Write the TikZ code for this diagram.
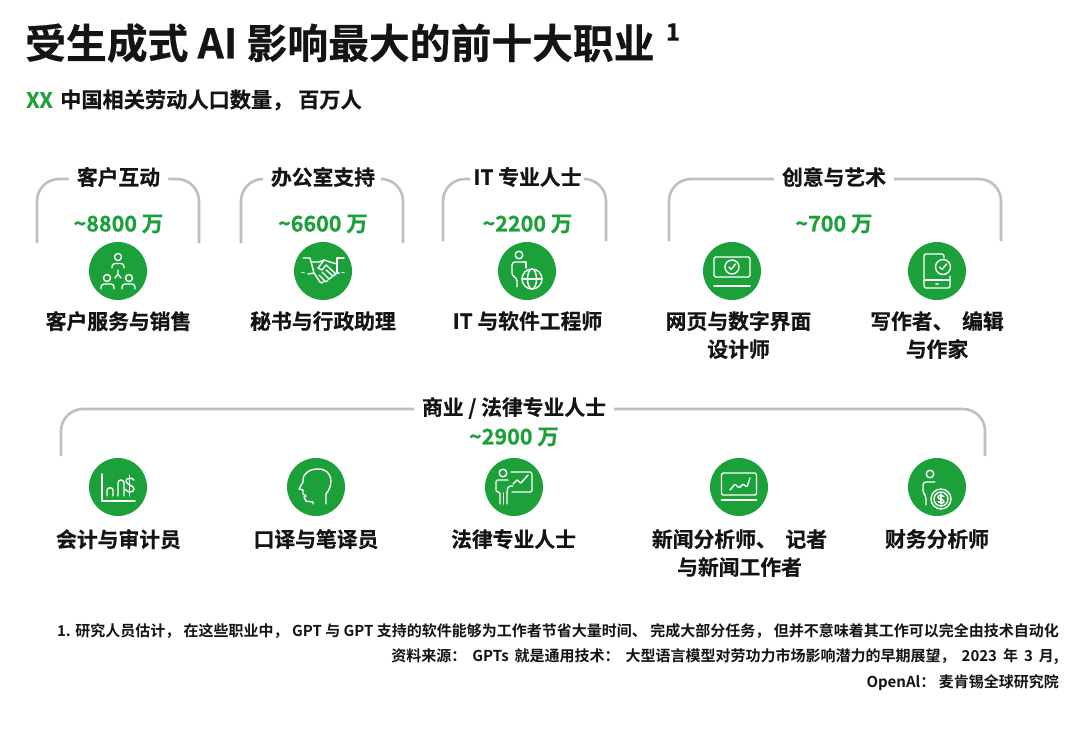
\documentclass[tikz,border=0pt]{standalone}
\usepackage{fontspec}
\setmainfont{Noto Sans CJK SC}[BoldFont={Noto Sans CJK SC Bold}]
\newfontfamily\heavy{Noto Sans CJK SC Bold}[FakeBold=0.5]
\definecolor{mgreen}{HTML}{1BA03A}
\definecolor{mgray}{HTML}{BFBFBF}
\definecolor{mtext}{HTML}{141414}
\tikzset{
  bracket/.style={draw=mgray,line width=2.6pt,rounded corners=22pt},
  disc/.style={circle,fill=mgreen,draw=none,minimum size=58pt,inner sep=0pt},
  ico/.style={draw=white,line width=1.4pt,line cap=round,line join=round},
  head/.style={font=\heavy\fontsize{20.8}{28}\selectfont,text=mtext,inner xsep=8pt,inner ysep=1pt,anchor=center},
  count/.style={font=\heavy\fontsize{21.5}{28}\selectfont,text=mgreen,inner sep=1pt,anchor=center},
  job/.style={font=\heavy\fontsize{20.8}{28}\selectfont,text=mtext,inner sep=0pt,align=center,anchor=north},
  foot/.style={font=\bfseries\fontsize{15}{18}\selectfont,text=mtext,inner sep=0pt,anchor=east},
}
\newcommand{\icPeople}{
  \draw[ico] (0,-14) circle (3.5) (-11,7) circle (3.5) (11,7) circle (3.5);
  \draw[ico,rounded corners=3pt] (-6,-3)--(-6,-7.5)--(6,-7.5)--(6,-3);
  \draw[ico,rounded corners=3pt] (-17,18)--(-17,13)--(-4,13)--(-4,18);
  \draw[ico,rounded corners=3pt] (4,18)--(4,13)--(17,13)--(17,18);
  \draw[ico] (0,-1)--(0,3) (-3,7)--(0,3)--(3,7);
}
\newcommand{\icShake}{
  \draw[ico] (-20,-13)--(-13,-13)--(-9,2)--(-15,3);
  \draw[ico] (-21,1.5)--(-19,1.5) (21,1.5)--(19,1.5);
  \draw[ico] (21,-13)--(14,-13)--(14,2)--(16,2);
  \draw[ico] (-11,-9)--(-4,-9)--(1,-11)--(7,-9)--(14,-7);
  \draw[ico] (1,-11)--(-5,-3)--(-1,-1)--(3,-6)--(13,3);
  \draw[ico] (-9,2)--(-3,11)--(-1,12)--(1,10) (-4,4)--(3,11)--(5,9) (-1,1)--(6,8)--(9,6) (3,-1)--(10,5)--(13,3);
}
\newcommand{\icIT}{
  \draw[ico] (-8,-16) circle (3.8);
  \draw[ico,rounded corners=3pt] (-3,-9)--(-15,-9)--(-15,5)--(-10,7)--(-10,16);
  \draw[ico] (-3,-9)--(-1,-9)--(-1,-3);
  \draw[ico] (5,8) circle (10);
  \draw[ico] (5,8) ellipse (4.5 and 10);
  \draw[ico] (-5,8)--(15,8);
}
\newcommand{\icLaptop}{
  \draw[ico,rounded corners=1.5pt] (-18,-14)--(18,-14)--(18,6)--(-18,6)--cycle;
  \draw[ico] (-18,15)--(18,15);
  \draw[ico] (0,-4) circle (7);
  \draw[ico] (-3,-4)--(-1,-1.5)--(3.5,-7);
}
\newcommand{\icPhone}{
  \draw[ico,rounded corners=2pt] (7,-13)--(7,-17)--(-13,-17)--(-13,17)--(13,17)--(13,5);
  \draw[ico] (-13,9)--(13,9) (-1,13)--(1,13);
  \draw[ico] (6,-4) circle (7.5);
  \draw[ico] (2.5,-4)--(5,-1.5)--(9.5,-7);
}
\newcommand{\icLedger}{
  \draw[ico] (-16,-13)--(-16,14)--(17,14);
  \draw[ico] (-11,9)--(-11,3) .. controls (-11,0) and (-5,0) .. (-5,3)--(-5,9);
  \draw[ico] (0,9)--(0,-4) .. controls (0,-8) and (6,-8) .. (6,-4)--(6,9);
  \draw[ico] (16,-7) .. controls (14,-10) and (8,-9) .. (8,-6) .. controls (8,-2) and (16,-2) .. (16,2) .. controls (16,6) and (9,6) .. (7,2);
  \draw[ico] (11.5,-12)--(11.5,9);
}
\newcommand{\icHead}{
  \draw[ico] (10,17)--(10,7) .. controls (18,-2) and (17,-18) .. (2,-18)
    .. controls (-9,-18) and (-14,-11) .. (-13,-5)--(-17,2)--(-13,3)--(-13,7)--(-10,9)--(-12,10)
    --(-10,14) .. controls (-9,15) and (-5,14) .. (-3,15)--(-3,17);
}
\newcommand{\icBoard}{
  \draw[ico] (-11,-14) circle (3.8);
  \draw[ico,rounded corners=2pt] (-6,-7)--(-18,-7)--(-18,5)--(-14,5)--(-14,17) (-7,17)--(-7,5)--(-6,-1)--(-1,-1);
  \draw[ico] (-10.5,17)--(-10.5,6);
  \draw[ico,rounded corners=1.5pt] (-3,-15)--(18,-15)--(18,5)--(-2,5);
  \draw[ico] (-1,-3)--(3,-7)--(7,-4)--(14,-12);
}
\newcommand{\icChart}{
  \draw[ico,rounded corners=1.5pt] (-17.5,-14)--(17.5,-14)--(17.5,8)--(-17.5,8)--cycle;
  \draw[ico] (-17.5,13)--(17.5,13);
  \draw[ico,rounded corners=1pt] (-9,3)--(-4,-3)--(0,1)--(4,-3)--(8,0)--(11,-9);
}
\newcommand{\icMoney}{
  \draw[ico] (-7,-13) circle (3.8);
  \draw[ico,rounded corners=3pt] (-2,-5)--(-14,-5)--(-14,6)--(-11,9)--(-11,18);
  \draw[ico] (4,12) circle (10);
  \draw[ico] (4,12) circle (7);
  \draw[ico] (7,9.5) .. controls (5,7.5) and (1,8) .. (1,10) .. controls (1,13) and (7,12) .. (7,14.5) .. controls (7,16.5) and (3,16.5) .. (1,14.5);
  \draw[ico] (4,7)--(4,17);
}
\begin{document}
\begin{tikzpicture}[x=1pt,y=-1pt]
\useasboundingbox (0,0) rectangle (1080,731);
\fill[white] (0,0) rectangle (1080,731);

% title
\node[anchor=west,inner sep=0pt,text=mtext,font=\heavy\fontsize{40.8}{48}\selectfont] (title) at (25,43) {受生成式 AI 影响最大的前十大职业};
\node[anchor=center,inner sep=0pt,text=mtext,font=\heavy\fontsize{24}{26}\selectfont] (titlenote) at (673,32) {1};
\node[anchor=west,inner sep=0pt,text=mgreen,font=\heavy\fontsize{21.2}{26}\selectfont] (xx) at (26,100) {XX};
\node[anchor=west,inner sep=0pt,text=mtext,font=\heavy\fontsize{21.2}{26}\selectfont] (sub) at (60,100) {中国相关劳动人口数量， 百万人};

% group headings
\node[head] (h1) at (118.5,177) {客户互动};
\node[head] (h2) at (323,177) {办公室支持};
\node[head,inner xsep=3pt] (h3) at (527.5,177) {IT 专业人士};
\node[head] (h4) at (834,177) {创意与艺术};
\node[head] (h5) at (514,408) {商业 / 法律专业人士};

% brackets
\foreach \n/\l/\r/\b in {1/37/199/243,2/241/403/243,3/443/606/241,4/669/1001/241}{
  \coordinate (bl\n) at (\l,\b); \coordinate (tl\n) at (\l,179);
  \coordinate (br\n) at (\r,\b); \coordinate (tr\n) at (\r,179);
  \draw[bracket] (h\n.west |- tl\n) -- (tl\n) -- (bl\n);
  \draw[bracket] (h\n.east |- tr\n) -- (tr\n) -- (br\n);
}
\coordinate (bl5) at (61,456); \coordinate (tl5) at (61,409);
\coordinate (br5) at (985,456); \coordinate (tr5) at (985,409);
\draw[bracket] (h5.west |- tl5) -- (tl5) -- (bl5);
\draw[bracket] (h5.east |- tr5) -- (tr5) -- (br5);

% counts
\node[count] (n1) at (118.5,224) {\textasciitilde8800 万};
\node[count] (n2) at (323,224) {\textasciitilde6600 万};
\node[count] (n3) at (527.5,224) {\textasciitilde2200 万};
\node[count] (n4) at (834,224) {\textasciitilde700 万};
\node[count] (n5) at (514,437) {\textasciitilde2900 万};

% discs and icons
\foreach \nm/\cx/\cy/\ic in {
  d1/118/271/\icPeople, d2/323/271/\icShake, d3/527/271/\icIT, d4/732/271/\icLaptop, d5/937/271/\icPhone,
  d6/118/487/\icLedger, d7/316/487/\icHead, d8/514/487/\icBoard, d9/739/487/\icChart, d10/937/487/\icMoney}{
  \node[disc] (\nm) at (\cx,\cy) {};
  \begin{scope}[shift={(\nm.center)}]\ic\end{scope}
}

% job labels
\node[job] (j1) at (118.5,311) {客户服务与销售};
\node[job] (j2) at (323,311) {秘书与行政助理};
\node[job] (j3) at (527.5,311) {IT 与软件工程师};
\node[job] (j4) at (738.5,311) {网页与数字界面\\设计师};
\node[job] (j5) at (937,311) {写作者、 \hspace{4pt}编辑\\与作家};
\node[job] (j6) at (118.5,529) {会计与审计员};
\node[job] (j7) at (316,529) {口译与笔译员};
\node[job] (j8) at (513.5,529) {法律专业人士};
\node[job] (j9) at (739.5,529) {新闻分析师、 \hspace{4pt}记者\\与新闻工作者};
\node[job] (j10) at (937,529) {财务分析师};

% footnotes
\node[foot] (f1) at (1059,631) {1. 研究人员估计， 在这些职业中， GPT 与 GPT 支持的软件能够为工作者节省大量时间、 完成大部分任务， 但并不意味着其工作可以完全由技术自动化};
\node[foot] (f2) at (1059,657) {\spaceskip=6pt 资料来源： GPTs 就是通用技术： 大型语言模型对劳功力市场影响潜力的早期展望， 2023 年 3 月,};
\node[foot] (f3) at (1059,683) {OpenAl： 麦肯锡全球研究院};
\end{tikzpicture}
\end{document}
